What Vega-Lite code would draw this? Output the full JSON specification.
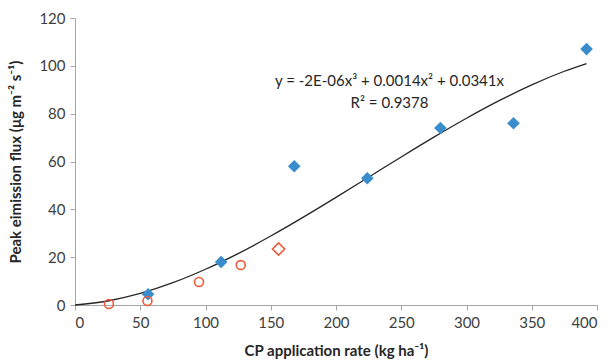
{
  "$schema": "https://vega.github.io/schema/vega-lite/v6.json",
  "width": 522,
  "height": 287,
  "autosize": {"type": "none"},
  "padding": {"left": 75, "top": 18, "right": 15, "bottom": 59},
  "config": {
    "view": {"stroke": null},
    "font": "Lato",
    "axis": {
      "grid": false,
      "domainColor": "#a6a6a6",
      "tickColor": "#a6a6a6",
      "tickSize": 5,
      "labelFont": "Lato",
      "labelFontSize": 15,
      "labelColor": "#404040",
      "titleFont": "Lato",
      "titleFontSize": 15,
      "titleFontWeight": "bold",
      "titleColor": "#262626"
    }
  },
  "datasets": {
    "blue": [
      {"x": 56, "y": 4.5},
      {"x": 112, "y": 18},
      {"x": 168, "y": 58},
      {"x": 224, "y": 53},
      {"x": 280, "y": 74},
      {"x": 336, "y": 76},
      {"x": 392, "y": 107}
    ],
    "redc": [
      {"x": 26, "y": 0.4},
      {"x": 55.5, "y": 1.7},
      {"x": 95, "y": 9.6},
      {"x": 127, "y": 16.7}
    ],
    "redd": [
      {"x": 156, "y": 23.4}
    ],
    "curve": [
      {"x": 0, "y": 0},
      {"x": 25, "y": 1.67},
      {"x": 50, "y": 4.84},
      {"x": 75, "y": 9.33},
      {"x": 100, "y": 14.95},
      {"x": 125, "y": 21.51},
      {"x": 150, "y": 28.83},
      {"x": 175, "y": 36.72},
      {"x": 200, "y": 44.98},
      {"x": 225, "y": 53.44},
      {"x": 250, "y": 61.91},
      {"x": 275, "y": 70.19},
      {"x": 300, "y": 78.09},
      {"x": 325, "y": 85.44},
      {"x": 350, "y": 92.06},
      {"x": 375, "y": 97.73},
      {"x": 392, "y": 100.96}
    ],
    "labels": [
      {"x": 241, "y": 93.6, "t": "y = -2E-06x³ + 0.0014x² + 0.0341x"},
      {"x": 241, "y": 84.4, "t": "R² = 0.9378"}
    ]
  },
  "layer": [
    {
      "data": {"name": "curve"},
      "mark": {"type": "line", "color": "#262626", "strokeWidth": 1.3, "interpolate": "monotone"},
      "encoding": {
        "x": {
          "field": "x", "type": "quantitative",
          "scale": {"domain": [0, 400], "nice": false},
          "axis": {"values": [0, 50, 100, 150, 200, 250, 300, 350, 400], "title": "CP application rate (kg ha⁻¹)", "titlePadding": 13, "labelPadding": 5}
        },
        "y": {
          "field": "y", "type": "quantitative",
          "scale": {"domain": [0, 120], "nice": false},
          "axis": {"values": [0, 20, 40, 60, 80, 100, 120], "title": "Peak eimission flux (μg m⁻² s⁻¹)", "titlePadding": 15, "labelPadding": 5}
        }
      }
    },
    {
      "data": {"name": "blue"},
      "mark": {"type": "point", "shape": "diamond", "filled": true, "color": "#3A8DCD", "opacity": 1, "size": 160},
      "encoding": {
        "x": {"field": "x", "type": "quantitative"},
        "y": {"field": "y", "type": "quantitative"}
      }
    },
    {
      "data": {"name": "redc"},
      "mark": {"type": "point", "shape": "circle", "filled": false, "color": "#F05A3C", "opacity": 1, "strokeWidth": 1.6, "size": 80},
      "encoding": {
        "x": {"field": "x", "type": "quantitative"},
        "y": {"field": "y", "type": "quantitative"}
      }
    },
    {
      "data": {"name": "redd"},
      "mark": {"type": "point", "shape": "diamond", "filled": false, "color": "#F05A3C", "opacity": 1, "strokeWidth": 1.6, "size": 150},
      "encoding": {
        "x": {"field": "x", "type": "quantitative"},
        "y": {"field": "y", "type": "quantitative"}
      }
    },
    {
      "data": {"name": "labels"},
      "mark": {"type": "text", "font": "Lato", "fontSize": 15, "color": "#262626", "align": "center", "baseline": "middle"},
      "encoding": {
        "x": {"field": "x", "type": "quantitative"},
        "y": {"field": "y", "type": "quantitative"},
        "text": {"field": "t"}
      }
    }
  ]
}
